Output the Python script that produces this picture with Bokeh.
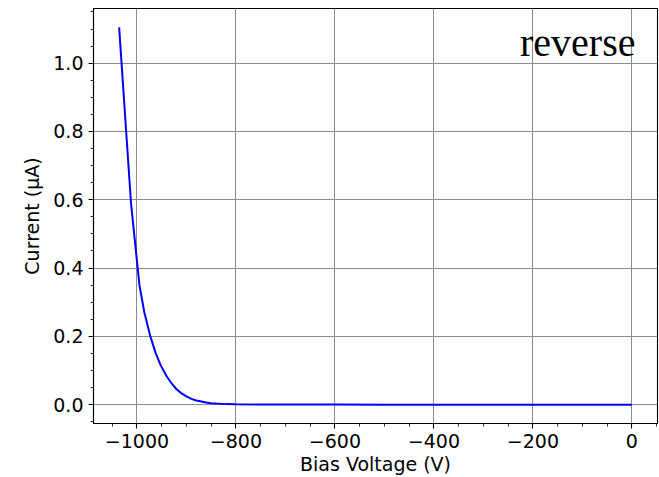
from bokeh.plotting import figure
from bokeh.models import Range1d, Label, NumeralTickFormatter, CustomJSTickFormatter, FixedTicker
from bokeh.embed import file_html
from bokeh.resources import INLINE

# data
voltage = [-1036, -1012, -995, -985, -973, -962, -952, -940, -930, -920, -910,
           -900, -890, -880, -870, -860, -850, -840, -820, -800, -750, -700,
           -600, -500, -400, -300, -200, -100, 0]
current = [1.105, 0.59, 0.35, 0.27, 0.20, 0.15, 0.115, 0.083, 0.062, 0.045, 0.033,
           0.024, 0.017, 0.012, 0.009, 0.006, 0.004, 0.003, 0.0015, 0.0008, 0.0003, 0.0001,
           0.00005, 0.00003, 0.00002, 0.00002, 0.00001, 0.00001, 0.0]
x_ticks = [-1000, -800, -600, -400, -200, 0]
y_ticks = [0.0, 0.2, 0.4, 0.6, 0.8, 1.0]
annotation = "reverse"

xmin, xmax = min(voltage), max(voltage)
ymin, ymax = min(current), max(current)
xm = 0.05 * (xmax - xmin)
ym = 0.05 * (ymax - ymin)
x0, x1 = xmin - xm, xmax + xm
y0, y1 = ymin - ym, ymax + ym

p = figure(width=659, height=477, output_backend="svg", toolbar_location=None,
           x_range=Range1d(x0, x1), y_range=Range1d(y0, y1),
           min_border_left=93, min_border_right=2, min_border_top=8, min_border_bottom=54)
p.background_fill_color = "white"
p.border_fill_color = "white"
p.outline_line_color = "black"
p.outline_line_width = 1.1

p.line(voltage, current, line_color="#0000ff", line_width=2)

for ax in (p.xaxis[0], p.yaxis[0]):
    ax.axis_line_color = "black"
    ax.axis_line_width = 1.1
    ax.major_tick_line_color = "black"
    ax.major_tick_line_width = 1.1
    ax.major_tick_in = 0
    ax.major_tick_out = 5
    ax.minor_tick_line_color = "black"
    ax.minor_tick_line_width = 0.8
    ax.minor_tick_in = 0
    ax.minor_tick_out = 3
    ax.major_label_text_font = "DejaVu Sans"
    ax.major_label_text_font_size = "19px"
    ax.major_label_text_color = "black"
    ax.axis_label_text_font = "DejaVu Sans"
    ax.axis_label_text_font_size = "19px"
    ax.axis_label_text_font_style = "normal"
    ax.axis_label_text_color = "black"
    ax.major_label_standoff = 5

p.xaxis[0].ticker = FixedTicker(ticks=x_ticks, minor_ticks=list(range(-1050, 51, 50)))
p.yaxis[0].ticker = FixedTicker(ticks=y_ticks, minor_ticks=[round(-0.05 + 0.05 * i, 2) for i in range(25)])
p.xaxis[0].formatter = CustomJSTickFormatter(code="return tick < 0 ? '\u2212' + Math.abs(tick) : '' + tick;")
p.yaxis[0].formatter = NumeralTickFormatter(format="0.0")
p.xaxis[0].axis_label = "Bias Voltage (V)"
p.yaxis[0].axis_label = "Current (μA)"
p.xaxis[0].axis_label_standoff = 2
p.yaxis[0].axis_label_standoff = 7

p.grid.grid_line_color = "#8c8c8c"
p.grid.grid_line_width = 1
p.xgrid.ticker = FixedTicker(ticks=x_ticks)
p.ygrid.ticker = FixedTicker(ticks=y_ticks)

p.add_layout(Label(x=x0 + 0.961 * (x1 - x0), y=y0 + 0.918 * (y1 - y0), text=annotation,
                   text_font="Liberation Serif", text_font_size="40px", text_color="black",
                   text_align="right", text_baseline="alphabetic"))

open("out.html", "w").write(file_html(p, INLINE))
